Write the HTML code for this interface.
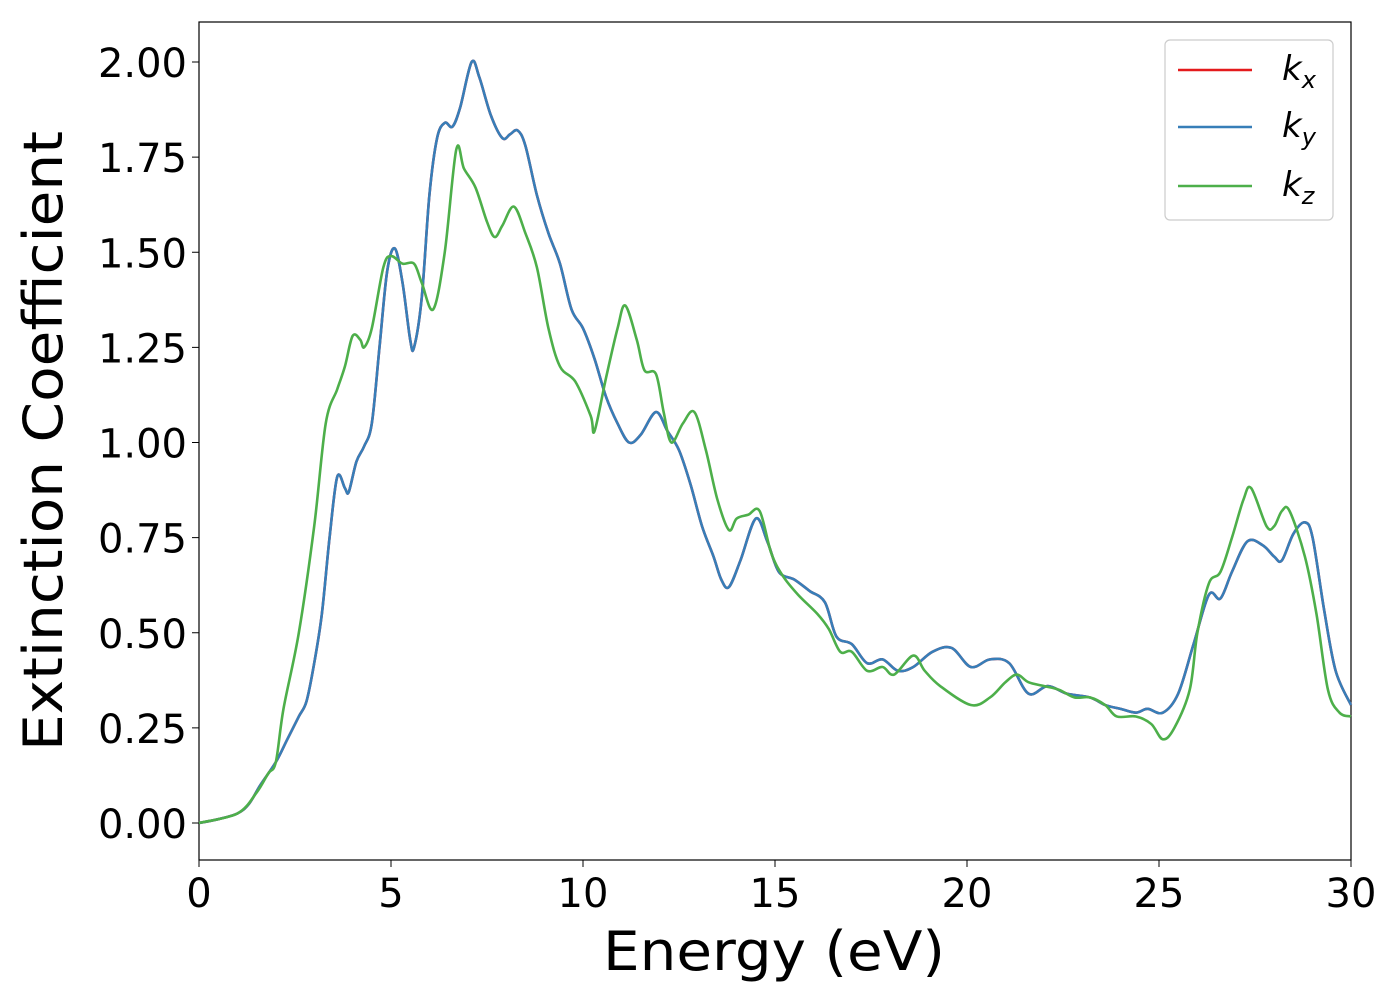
<!DOCTYPE html>
<html><head><meta charset="utf-8"><style>
body{margin:0;background:#fff;}
svg{font-family:"DejaVu Sans","Liberation Sans",sans-serif;}
</style></head><body>
<svg id="chart" width="1400" height="1000" viewBox="0 0 1400 1000">
<rect x="199" y="22" width="1152" height="838" fill="#fff" stroke="#000" stroke-width="1.2"/>
<g id="series"></g>
<g id="xticks"></g>
<g id="yticks"></g>
<text x="774" y="970" font-size="54" text-anchor="middle" textLength="342" lengthAdjust="spacingAndGlyphs">Energy (eV)</text>
<text transform="translate(62,441) rotate(-90)" font-size="54" text-anchor="middle" textLength="620" lengthAdjust="spacingAndGlyphs">Extinction Coefficient</text>
<g>
<rect x="1165" y="40" width="168" height="180" rx="5" fill="#fff" stroke="#ccc" stroke-width="1.2"/>
<g><line x1="1178" y1="70" x2="1252" y2="70" stroke="#e41a1c" stroke-width="2.5"/><text x="1282" y="80" font-size="34" font-style="italic">k<tspan font-size="24" dy="8">x</tspan></text></g>
<g><line x1="1178" y1="127" x2="1252" y2="127" stroke="#377eb8" stroke-width="2.5"/><text x="1282" y="137" font-size="34" font-style="italic">k<tspan font-size="24" dy="8">y</tspan></text></g>
<g><line x1="1178" y1="186" x2="1252" y2="186" stroke="#4daf4a" stroke-width="2.5"/><text x="1282" y="196" font-size="34" font-style="italic">k<tspan font-size="24" dy="8">z</tspan></text></g>
</g>
</svg>
<script>
const xTicks=[0,5,10,15,20,25,30];
const yTicks=[0,0.25,0.5,0.75,1.0,1.25,1.5,1.75,2.0];
const energyKy=[0,0.5,1,1.3,1.6,2,2.3,2.6,2.8,3.0,3.2,3.4,3.6,3.8,3.9,4.1,4.3,4.5,4.7,4.9,5.1,5.3,5.5,5.6,5.8,6.0,6.2,6.4,6.6,6.8,7.1,7.3,7.6,7.9,8.1,8.3,8.5,8.8,9.1,9.4,9.7,10.0,10.3,10.6,10.9,11.2,11.5,11.9,12.2,12.5,12.8,13.1,13.4,13.6,13.8,14.1,14.5,14.8,15.1,15.5,15.9,16.3,16.6,17.0,17.4,17.8,18.2,18.6,19.1,19.6,20.1,20.6,21.1,21.6,22.1,22.6,23.2,23.6,24.0,24.4,24.7,25.1,25.5,25.9,26.3,26.6,26.9,27.3,27.7,28.0,28.2,28.5,28.8,29.0,29.3,29.6,30];
const valuesKy=[0,0.01,0.025,0.05,0.1,0.16,0.22,0.28,0.32,0.42,0.55,0.75,0.91,0.88,0.87,0.95,0.99,1.05,1.25,1.45,1.51,1.42,1.27,1.25,1.38,1.65,1.8,1.84,1.83,1.88,2.0,1.96,1.86,1.80,1.81,1.82,1.78,1.65,1.55,1.47,1.35,1.30,1.22,1.12,1.05,1.00,1.02,1.08,1.03,0.98,0.89,0.78,0.70,0.64,0.62,0.69,0.80,0.74,0.66,0.64,0.61,0.58,0.49,0.47,0.42,0.43,0.40,0.41,0.45,0.46,0.41,0.43,0.42,0.34,0.36,0.34,0.33,0.31,0.30,0.29,0.30,0.29,0.34,0.47,0.60,0.59,0.66,0.74,0.73,0.70,0.69,0.76,0.79,0.75,0.56,0.40,0.31];
const energyKx=energyKy.slice();
const valuesKx=valuesKy.slice();
const energyKz=[0,1,1.5,1.8,2.0,2.2,2.6,3.0,3.3,3.6,3.8,4.0,4.2,4.3,4.5,4.8,5.0,5.3,5.6,5.8,6.1,6.4,6.7,6.9,7.2,7.5,7.7,7.9,8.2,8.5,8.8,9.1,9.4,9.8,10.2,10.3,10.6,10.9,11.1,11.4,11.6,11.9,12.1,12.3,12.6,12.9,13.2,13.5,13.8,14.0,14.3,14.6,14.9,15.2,15.6,16.1,16.4,16.7,17.0,17.4,17.8,18.1,18.6,18.9,19.3,20.1,20.6,21.0,21.3,21.6,22.0,22.4,22.8,23.2,23.6,23.9,24.4,24.8,25.1,25.4,25.8,26.0,26.3,26.6,26.9,27.2,27.4,27.8,28.0,28.2,28.4,28.8,29.1,29.4,29.7,30];
const valuesKz=[0,0.025,0.08,0.13,0.16,0.30,0.50,0.78,1.05,1.14,1.20,1.28,1.27,1.25,1.30,1.46,1.49,1.47,1.47,1.42,1.35,1.50,1.77,1.72,1.67,1.58,1.54,1.57,1.62,1.55,1.46,1.30,1.20,1.16,1.07,1.03,1.17,1.30,1.36,1.27,1.19,1.18,1.08,1.00,1.05,1.08,0.98,0.85,0.77,0.80,0.81,0.82,0.71,0.65,0.60,0.55,0.51,0.45,0.45,0.40,0.41,0.39,0.44,0.40,0.36,0.31,0.33,0.37,0.39,0.37,0.36,0.35,0.33,0.33,0.31,0.28,0.28,0.26,0.22,0.25,0.35,0.50,0.63,0.66,0.75,0.85,0.88,0.78,0.78,0.82,0.82,0.70,0.55,0.35,0.29,0.28];

const NS="http://www.w3.org/2000/svg";
function xs(e){return 199+e*(1152/30);}
function ys(v){return 823-v*(761/2);}
function smoothPath(ex,vals){
  const p=ex.map((e,i)=>[xs(e),ys(vals[i])]);
  let d="M"+p[0][0]+","+p[0][1];
  for(let i=0;i<p.length-1;i++){
    const p0=p[Math.max(0,i-1)],p1=p[i],p2=p[i+1],p3=p[Math.min(p.length-1,i+2)];
    const c1=[p1[0]+(p2[0]-p0[0])/6,p1[1]+(p2[1]-p0[1])/6];
    const c2=[p2[0]-(p3[0]-p1[0])/6,p2[1]-(p3[1]-p1[1])/6];
    d+=" C"+c1[0]+","+c1[1]+" "+c2[0]+","+c2[1]+" "+p2[0]+","+p2[1];
  }
  return d;
}
const sg=document.getElementById('series');
function addLine(ex,vals,color,name){
  const path=document.createElementNS(NS,'path');
  path.setAttribute('d',smoothPath(ex,vals));
  path.setAttribute('fill','none');
  path.setAttribute('stroke',color);
  path.setAttribute('stroke-width','2.6');
  
  
  sg.appendChild(path);
}
addLine(energyKx,valuesKx,'#e41a1c','line-kx');
addLine(energyKy,valuesKy,'#377eb8','line-ky');
addLine(energyKz,valuesKz,'#4daf4a','line-kz');

const xg=document.getElementById('xticks');
xTicks.forEach(t=>{
  const l=document.createElementNS(NS,'line');
  l.setAttribute('x1',xs(t));l.setAttribute('x2',xs(t));l.setAttribute('y1',860);l.setAttribute('y2',867);
  l.setAttribute('stroke','#000');
  
  
  xg.appendChild(l);
  const tx=document.createElementNS(NS,'text');
  tx.setAttribute('x',xs(t));tx.setAttribute('y',907);tx.setAttribute('font-size','40');tx.setAttribute('text-anchor','middle');
  tx.textContent=t;
  
  
  xg.appendChild(tx);
});
const yg=document.getElementById('yticks');
yTicks.forEach(t=>{
  const l=document.createElementNS(NS,'line');
  l.setAttribute('x1',192);l.setAttribute('x2',199);l.setAttribute('y1',ys(t));l.setAttribute('y2',ys(t));
  l.setAttribute('stroke','#000');
  
  
  yg.appendChild(l);
  const tx=document.createElementNS(NS,'text');
  tx.setAttribute('x',187);tx.setAttribute('y',ys(t)+15);tx.setAttribute('font-size','40');tx.setAttribute('text-anchor','end');
  tx.textContent=t.toFixed(2);
  
  
  yg.appendChild(tx);
});
</script>
</body></html>
